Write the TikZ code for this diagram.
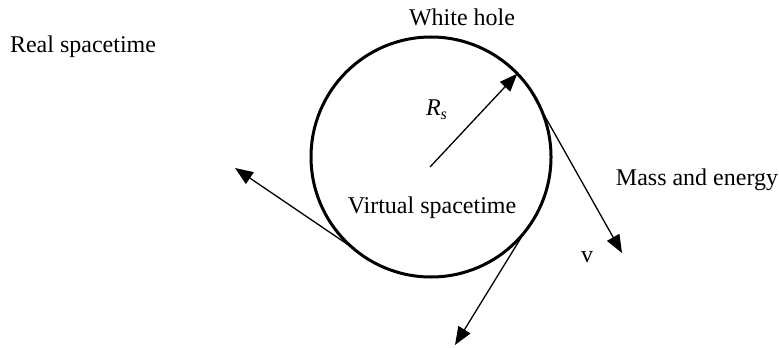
\documentclass[tikz,border=0pt]{standalone}
\usepackage{fontspec}
\setmainfont{Liberation Serif}
\usetikzlibrary{arrows.meta}

\begin{document}
\begin{tikzpicture}[
  x=0.5pt, y=-0.5pt,
  font=\fontsize{12}{14}\selectfont,
  hole/.style={circle, draw=black, line width=1.5pt, minimum size=120pt,
               inner sep=0pt, outer sep=0pt},
  arr/.style={-{Triangle[length=9pt,width=7pt]}, line width=0.65pt, black},
  lbl/.style={inner sep=0pt, anchor=center}
]
\useasboundingbox (0,0) rectangle (779,347);
\node[hole] (H) at (431,157) {};
\node[lbl] (wh) at (462,17) {White hole};
\node[lbl] (real) at (83,47) {Real spacetime};
\node[lbl] (rs) at (437,110) {\textit{R\textsubscript{s}}};
\node[lbl] (virt) at (432,208) {Virtual spacetime};
\node[lbl] (mass) at (697,180) {Mass and energy};
\node[lbl] (v) at (587,257) {v};
\coordinate (c0) at (430,167);
\coordinate (tl) at (235,168);
\coordinate (tr) at (622,253);
\coordinate (tb) at (455,345);
\draw[arr] (c0) -- (H.44);
\draw[arr] (H.229) -- (tl);
\draw[arr] (H.36) -- (tr);
\draw[arr] (H.-39) -- (tb);
\end{tikzpicture}
\end{document}
